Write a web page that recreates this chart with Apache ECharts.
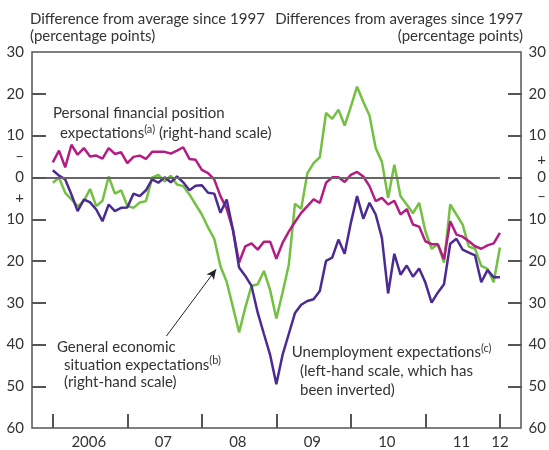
<!DOCTYPE html>
<html>
<head>
<meta charset="utf-8">
<script src="https://cdn.jsdelivr.net/npm/echarts@6/dist/echarts.min.js"></script>
<style>
  html, body { margin: 0; padding: 0; background: #fff; }
  #chart { width: 549px; height: 450px; }
</style>
</head>
<body>
<div id="chart"></div>
<script>
// monthly readings, Jan 2006 .. Jan 2012 (index 0 = Jan 2006)
const personal = [3.6, 6.4, 2.4, 7.8, 5.4, 7.0, 5.0, 5.2, 4.5, 7.0,
  5.6, 6.0, 3.4, 4.9, 5.2, 4.4, 6.1, 6.1, 6.1, 5.7,
  6.4, 7.2, 4.4, 4.2, 1.8, 1.0, -0.5, -4.5, -7.5, -12.5,
  -20.4, -16.5, -15.8, -17.3, -15.4, -15.4, -19.5, -15.7, -13.0, -10.7,
  -8.5, -6.9, -5.3, -6.1, -1.3, 0.0, 0.0, -1.1, 0.6, 1.3,
  0.2, -2.1, -5.7, -4.9, -6.5, -5.6, -8.9, -7.6, -11.3, -11.8,
  -15.3, -16.0, -16.0, -19.6, -10.5, -13.7, -14.2, -15.3, -16.5, -17.1,
  -16.3, -15.8, -13.3];

const general = [-1.3, -0.1, -3.7, -5.3, -6.9, -5.7, -2.8, -6.9, -5.6, 0.2,
  -3.9, -3.1, -6.8, -7.3, -6.0, -5.7, -0.1, 0.6, -1.0, 0.4,
  -1.7, -2.1, -4.1, -6.5, -8.9, -12.0, -14.7, -21.3, -25.0, -31.0,
  -37.1, -31.2, -26.0, -25.6, -22.4, -27.0, -33.8, -27.6, -21.0, -6.3,
  -7.5, 1.0, 3.4, 4.8, 15.4, 14.0, 16.2, 12.4, 16.9, 21.7,
  18.1, 14.8, 7.0, 3.7, -4.9, 3.0, -4.5, -6.5, -8.6, -6.1,
  -12.9, -17.1, -16.0, -20.4, -6.5, -8.9, -11.3, -16.6, -17.1, -21.2,
  -21.9, -25.1, -16.8];

// left-hand scale (inverted on the chart)
const unemployment = [-1.7, -0.4, 0.5, 4.1, 8.1, 5.3, 6.0, 7.7, 10.5, 6.5,
  8.1, 7.3, 7.2, 3.9, 4.5, 3.1, 0.5, 1.3, 0.0, 1.2,
  -0.2, 1.2, 3.1, 2.0, 1.9, 3.7, 3.9, 8.5, 5.3, 12.5,
  21.6, 23.6, 26.0, 32.4, 37.5, 42.5, 49.5, 42.5, 37.5, 32.5,
  30.5, 29.6, 29.2, 27.2, 20.0, 19.2, 14.9, 18.3, 10.9, 4.5,
  9.9, 6.1, 8.9, 14.5, 27.8, 18.3, 23.3, 21.1, 23.8, 21.8,
  25.2, 30.0, 27.6, 25.6, 15.9, 14.7, 17.3, 18.0, 18.7, 25.1,
  22.2, 23.9, 23.9];

const yearLabels = ['2006', '07', '08', '09', '10', '11', '12'];
const yearLabelPos = [5.8, 17.8, 29.8, 41.8, 53.8, 65.8, 72];
const yearTicks = [0, 12, 24, 36, 48, 60, 72];

const leftLabelVals = [-30, -20, -10, -5, 0, 5, 10, 20, 30, 40, 50, 60];
const rightLabelVals = [30, 20, 10, 4, 0, -4.5, -10, -20, -30, -40, -50, -60];
// tick marks on both vertical axes (right-hand scale values)
const sideTickVals = [20, 10, 0, -10, -20, -30, -40, -50];

const X_MIN = -3.35;
const X_MAX = 75.4;
const Y_MIN = -60;
const Y_MAX = 30;
const GRID = { left: 32, right: 27, top: 52, bottom: 21 };
const W = 549, H = 450;
const TICK_LEN = 14;

const FONT = 'Lato';
const TXT = '#333';
const AX = '#555';

const toXY = arr => arr.map((v, i) => [i, v]);

const chart = echarts.init(document.getElementById('chart'));

function txt(x, y, s, align) {
  return {
    type: 'text', x: x, y: y, silent: true,
    style: {
      text: s, fill: TXT, font: '15px ' + FONT,
      align: align || 'left', verticalAlign: 'middle',
      rich: {
        n: { fontSize: 15, fontFamily: FONT, lineHeight: 20, fill: TXT },
        s: { fontSize: 11, fontFamily: FONT, lineHeight: 11, verticalAlign: 'top', fill: TXT }
      }
    }
  };
}

// inward ticks on the vertical axes, sitting on the grid edges
const gx0 = GRID.left, gx1 = W - GRID.right;
const gy0 = GRID.top, gh = H - GRID.top - GRID.bottom;
const sideTicks = [];
sideTickVals.forEach(function (v) {
  const y = Math.round(gy0 + (Y_MAX - v) / (Y_MAX - Y_MIN) * gh);
  sideTicks.push({ type: 'line', silent: true, z: 100,
    shape: { x1: gx0, y1: y, x2: gx0 + TICK_LEN, y2: y }, style: { stroke: AX, lineWidth: 2 } });
  sideTicks.push({ type: 'line', silent: true, z: 100,
    shape: { x1: gx1 - TICK_LEN, y1: y, x2: gx1, y2: y }, style: { stroke: AX, lineWidth: 2 } });
});

const axisLineStyle = { show: false, onZero: false };

const option = {
  animation: false,
  grid: Object.assign({ show: true, borderColor: AX, borderWidth: 1.5 }, GRID),
  xAxis: {
    type: 'value', min: X_MIN, max: X_MAX,
    axisLine: axisLineStyle,
    splitLine: { show: false },
    axisTick: { show: true, inside: true, length: TICK_LEN, customValues: yearTicks, lineStyle: { color: AX, width: 2 } },
    axisLabel: {
      customValues: yearLabelPos, margin: 7,
      fontSize: 15, fontFamily: FONT, color: TXT,
      formatter: function (v) {
        let best = 0;
        yearLabelPos.forEach((p, i) => { if (Math.abs(p - v) < Math.abs(yearLabelPos[best] - v)) best = i; });
        return yearLabels[best];
      }
    }
  },
  yAxis: [
    {
      type: 'value', position: 'left', inverse: true, min: -Y_MAX, max: -Y_MIN, interval: 10,
      axisLine: axisLineStyle, splitLine: { show: false }, axisTick: { show: false },
      axisLabel: {
        customValues: leftLabelVals, margin: 8, fontSize: 15, fontFamily: FONT, color: TXT,
        formatter: v => v === -5 ? '\u2013' : v === 5 ? '+' : String(Math.abs(v))
      }
    },
    {
      type: 'value', position: 'right', min: Y_MIN, max: Y_MAX, interval: 10,
      axisLine: axisLineStyle, splitLine: { show: false }, axisTick: { show: false },
      axisLabel: {
        customValues: rightLabelVals, margin: 25, align: 'right', fontSize: 15, fontFamily: FONT, color: TXT,
        formatter: v => v > 0 && v < 10 ? '+' : v < 0 && v > -10 ? '\u2013' : String(Math.abs(v))
      }
    }
  ],
  series: [
    {
      name: 'General economic situation expectations', type: 'line', yAxisIndex: 1,
      data: toXY(general), showSymbol: false, symbol: 'none',
      lineStyle: { color: '#74c043', width: 2.5 },
      markLine: {
        silent: true, symbol: 'none', label: { show: false }, animation: false,
        data: [
          [{ coord: [X_MIN, 0], lineStyle: { color: '#666', width: 2, type: 'solid' } }, { coord: [72, 0] }],
          [{ coord: [18.3, -38], symbol: 'none', lineStyle: { color: '#222', width: 1, type: 'solid' } },
           { coord: [26.3, -22], symbol: 'arrow', symbolSize: [7, 10] }]
        ]
      }
    },
    {
      name: 'Personal financial position expectations', type: 'line', yAxisIndex: 1,
      data: toXY(personal), showSymbol: false, symbol: 'none',
      lineStyle: { color: '#b31d83', width: 2.5 }
    },
    {
      name: 'Unemployment expectations', type: 'line', yAxisIndex: 0,
      data: toXY(unemployment), showSymbol: false, symbol: 'none',
      lineStyle: { color: '#4b2b92', width: 2.5 }
    }
  ],
  graphic: [
    txt(30, 19, 'Difference from average since 1997'),
    txt(30, 36, '(percentage points)'),
    txt(523, 19, 'Differences from averages since 1997', 'right'),
    txt(523, 36, '(percentage points)', 'right'),
    txt(53, 113.5, 'Personal financial position'),
    txt(60, 133.5, '{n|expectations}{s|(a)}{n| (right-hand scale)}'),
    txt(57, 347, 'General economic'),
    txt(64, 365, '{n|situation expectations}{s|(b)}'),
    txt(64, 382.5, '(right-hand scale)'),
    txt(291.7, 352.5, '{n|Unemployment expectations}{s|(c)}'),
    txt(300, 371.5, '(left-hand scale, which has'),
    txt(300, 390, 'been inverted)')
  ].concat(sideTicks)
};

chart.setOption(option);
</script>
</body>
</html>
